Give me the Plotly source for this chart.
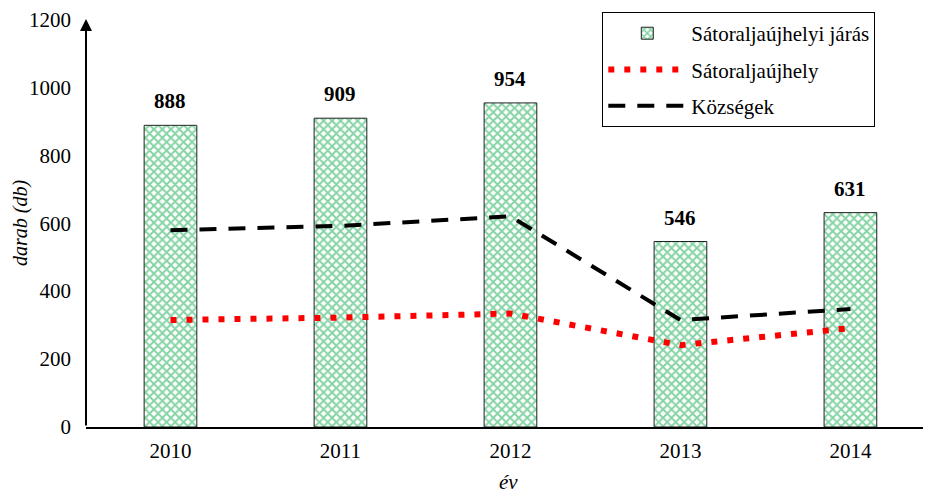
import plotly.graph_objects as go

years = ["2010", "2011", "2012", "2013", "2014"]
jaras = [888, 909, 954, 546, 631]
satoraljaujhely = [315, 322, 334, 241, 291]
kozsegek = [579, 592, 620, 315, 347]
y_ticks = [0, 200, 400, 600, 800, 1000, 1200]

FONT = "Liberation Serif"
FS = 21

fig = go.Figure()
fig.add_trace(go.Bar(
    x=years, y=jaras, name="Sátoraljaújhelyi járás", width=0.31,
    marker=dict(color="white", line=dict(color="#222222", width=1),
                pattern=dict(shape="x", fgcolor="#0aa84a", bgcolor="white", size=6, solidity=0.55)),
    legendgroup="a",
))
fig.add_trace(go.Scatter(
    x=years, y=satoraljaujhely, name="Sátoraljaújhely", mode="lines",
    line=dict(color="#ff0000", width=6, dash="6px,10px"),
    legendgroup="b",
))
fig.add_trace(go.Scatter(
    x=years, y=kozsegek, name="Községek", mode="lines",
    line=dict(color="black", width=4, dash="17px,12px"),
    legendgroup="c",
))

annotations = []
for i, v in enumerate(jaras):
    annotations.append(dict(x=i, y=v, xref="x", yref="y", text=f"<b>{v}</b>", showarrow=False,
                            yshift=24, xanchor="center", yanchor="middle",
                            font=dict(family=FONT, size=FS, color="black")))
# y axis arrow
annotations.append(dict(xref="paper", yref="paper", x=0, y=1, ax=0, ay=408, axref="pixel", ayref="pixel",
                        showarrow=True, arrowhead=2, arrowsize=1.2, arrowwidth=2, arrowcolor="black", text=""))
annotations.append(dict(xref="paper", yref="paper", x=-0.0781, y=0.5, text="<i>darab (db)</i>", textangle=-90,
                        xanchor="center", yanchor="middle",
                        showarrow=False, font=dict(family=FONT, size=20, color="black")))
annotations.append(dict(xref="paper", yref="paper", x=0.5, y=-0.135, text="<i>év</i>",
                        xanchor="center", yanchor="middle",
                        showarrow=False, font=dict(family=FONT, size=FS, color="black")))

# page body has an 8px margin, so the figure is drawn 8px smaller and offset
fig.update_layout(
    width=923, height=486,
    margin=dict(l=78, r=0, t=11, b=67),
    paper_bgcolor="white", plot_bgcolor="white",
    font=dict(family=FONT, size=FS, color="black"),
    showlegend=True,
    legend=dict(x=0.611, y=1.017, xanchor="left", yanchor="top", bordercolor="black", borderwidth=1,
                bgcolor="white", traceorder="grouped", tracegroupgap=6, itemwidth=78,
                font=dict(family=FONT, size=FS, color="black")),
    annotations=annotations,
    xaxis=dict(type="category", range=[-0.497, 4.474], showline=True, linecolor="black", linewidth=2,
               ticks="", showgrid=False, zeroline=False, ticklabelstandoff=4,
               tickfont=dict(family=FONT, size=FS, color="black")),
    yaxis=dict(range=[0, 1201], tickvals=y_ticks, showline=False, ticks="", showgrid=False,
               zeroline=False, ticklabelstandoff=14, ticklabeloverflow="allow",
               tickfont=dict(family=FONT, size=FS, color="black")),
)

fig.write_html("out.html")
